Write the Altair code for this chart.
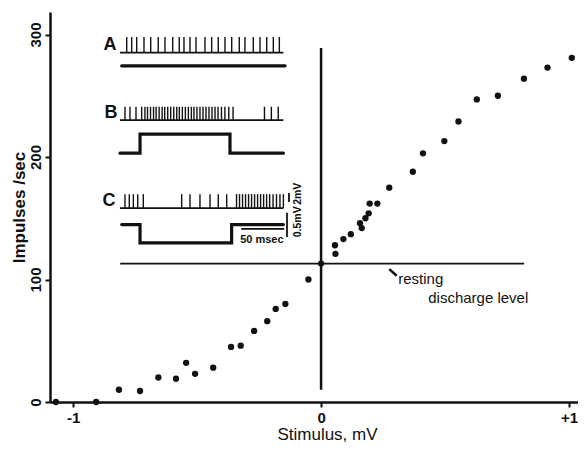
import altair as alt
import pandas as pd

# ---------------- data: main curve ----------------
stim_mv = [-1.069, -0.907, -0.815, -0.730, -0.656, -0.585, -0.544, -0.508, -0.435, -0.363,
           -0.324, -0.270, -0.217, -0.183, -0.144, -0.051, 0.0, 0.058, 0.056, 0.090,
           0.120, 0.164, 0.157, 0.179, 0.192, 0.196, 0.227, 0.275, 0.370, 0.411,
           0.497, 0.554, 0.628, 0.713, 0.818, 0.913, 1.011]
rate = [0, 0, 10, 9, 20, 19, 32, 23, 28, 45,
        46, 58, 66, 76, 80, 100, 113, 121, 128, 133,
        137, 142, 146, 150, 154, 162, 162, 175, 188, 203,
        213, 229, 247, 250, 264, 273, 281]
resting_rate = 113
x_ticks = [-1, 0, 1]
y_ticks = [0, 100, 200, 300]

# ---------------- data: inset traces (time in msec) ----------------
a_spikes = [7.8, 13.6, 19.4, 27.9, 35.7, 44.5, 52.3, 61.3, 68.9, 74.4, 81.4, 88.4,
            98.8, 106.6, 114.3, 122.1, 129.9, 138.7, 145.3, 155.0, 162.8, 170.6, 178.3, 185.3]
b_spikes = [5.8, 11.6, 18.6, 25.2, 29, 32, 35.5, 39, 42, 45.5, 49, 52, 55.5, 59, 62.5,
            66, 69, 72.5, 76, 79.5, 83, 86, 89.5, 93, 96.5, 100, 103.5, 107, 110.5,
            114, 118, 122, 126.5, 131.5, 168, 176, 184]
c_spikes = [5.8, 10.8, 15.5, 20.6, 27.1, 71.7, 81.4, 93, 104.7, 114.3, 124.1,
            135.5, 139, 142.5, 146, 149.5, 153, 156.5, 160, 163.5, 167, 170.5,
            174, 178, 182, 186, 190]
trace_len = [0, 190]
b_step_t = [0, 23.3, 23.3, 127.9, 127.9, 190]
b_step_on = [0, 0, 1, 1, 0, 0]
c_step_t = [2, 23.3, 23.3, 129.8, 129.8, 190]
c_step_on = [1, 1, 0, 0, 1, 1]
time_bar_ms = 50

# ---------------- layout (inset vertical units, 0..100 over plot height) ----------------
row_base = {"A": 89.6, "B": 72.3, "C": 49.7}
row_spike_h = {"A": 4.0, "B": 3.4, "C": 3.6}
a_line = 86.2
b_lo, b_hi = 63.8, 68.7
c_lo, c_hi = 40.8, 45.5

BLACK = "#111111"
FONT = "Liberation Sans"

# ---------------- main layer ----------------
xs = alt.Scale(domain=[-1.093, 1.036], nice=False, zero=False)
ys = alt.Scale(domain=[0, 318.4], nice=False, zero=False)

pts = pd.DataFrame({"stim": stim_mv, "rate": rate})
points = alt.Chart(pts).mark_circle(size=40, color=BLACK, opacity=1).encode(
    x=alt.X("stim:Q", scale=xs, title="Stimulus, mV",
            axis=alt.Axis(values=x_ticks, grid=False, domainColor=BLACK, domainWidth=2.5,
                          tickColor=BLACK, tickWidth=2, tickSize=5,
                          labelExpr="datum.value > 0 ? '+1' : (datum.value < 0 ? '-1' : '0')",
                          labelFont=FONT, labelFontSize=15, labelFontWeight="bold",
                          labelColor=BLACK, labelPadding=3,
                          titleFont=FONT, titleFontSize=17, titleFontWeight="normal",
                          titleColor=BLACK, titleX=277, titleY=24, titleBaseline="top")),
    y=alt.Y("rate:Q", scale=ys, title="Impulses /sec",
            axis=alt.Axis(values=y_ticks, grid=False, domainColor=BLACK, domainWidth=2.5,
                          tickColor=BLACK, tickWidth=2, tickSize=5, format="d",
                          labelAngle=270, labelFont=FONT, labelFontSize=15,
                          labelFontWeight="bold", labelColor=BLACK, labelPadding=2,
                          titleFont=FONT, titleFontSize=17, titleFontWeight="bold",
                          titleColor=BLACK, titleX=-26, titleBaseline="alphabetic")),
)

vline = alt.Chart(pd.DataFrame({"x": [0], "y0": [10], "y1": [289]})).mark_rule(
    color=BLACK, strokeWidth=2.5).encode(x=alt.X("x:Q", scale=xs), y=alt.Y("y0:Q", scale=ys), y2="y1:Q")

hline = alt.Chart(pd.DataFrame({"y": [resting_rate], "x0": [-0.810], "x1": [0.819]})).mark_rule(
    color=BLACK, strokeWidth=1.8).encode(y=alt.Y("y:Q", scale=ys), x=alt.X("x0:Q", scale=xs), x2="x1:Q")

arrow = alt.Chart(pd.DataFrame({"x0": [0.275], "x1": [0.305], "y0": [108.5], "y1": [103.0]})).mark_rule(
    color=BLACK, strokeWidth=2.6).encode(x=alt.X("x0:Q", scale=xs), x2="x1:Q",
                                          y=alt.Y("y0:Q", scale=ys), y2="y1:Q")

ann = pd.DataFrame({"x": [0.311, 0.432], "y": [100.4, 85.1], "t": ["resting", "discharge level"]})
ann_text = alt.Chart(ann).mark_text(align="left", baseline="middle", font=FONT, fontSize=15,
                                    color=BLACK).encode(
    x=alt.X("x:Q", scale=xs), y=alt.Y("y:Q", scale=ys), text="t:N")

main = alt.layer(points, vline, hline, arrow, ann_text)

# ---------------- inset layer ----------------
ts = alt.Scale(domain=[-81.4, 532.6], nice=False, zero=False)
us = alt.Scale(domain=[0, 100], nice=False, zero=False)

rows = []
for name, sp in (("A", a_spikes), ("B", b_spikes), ("C", c_spikes)):
    for t in sp:
        rows.append({"t": t, "u0": row_base[name], "u1": row_base[name] + row_spike_h[name]})
spk = pd.DataFrame(rows)
spikes = alt.Chart(spk).mark_rule(color=BLACK, strokeWidth=1.4).encode(
    x=alt.X("t:Q", scale=ts, axis=None), y=alt.Y("u0:Q", scale=us, axis=None), y2="u1:Q")

base = pd.DataFrame({"t0": [trace_len[0]] * 3, "t1": [trace_len[1]] * 3,
                     "u": [row_base["A"], row_base["B"], row_base["C"]]})
baselines = alt.Chart(base).mark_rule(color=BLACK, strokeWidth=1.8).encode(
    x=alt.X("t0:Q", scale=ts, axis=None), x2="t1:Q", y=alt.Y("u:Q", scale=us, axis=None))

step_rows = []
for i, t in enumerate([2, 192]):
    step_rows.append({"tr": "A", "i": i, "t": t, "u": a_line})
for i, (t, on) in enumerate(zip(b_step_t, b_step_on)):
    step_rows.append({"tr": "B", "i": i, "t": t, "u": b_hi if on else b_lo})
for i, (t, on) in enumerate(zip(c_step_t, c_step_on)):
    step_rows.append({"tr": "C", "i": i, "t": t, "u": c_hi if on else c_lo})
steps = alt.Chart(pd.DataFrame(step_rows)).mark_line(color=BLACK, strokeWidth=3.2,
                                                    strokeCap="round").encode(
    x=alt.X("t:Q", scale=ts, axis=None), y=alt.Y("u:Q", scale=us, axis=None),
    detail="tr:N", order="i:Q")

vbars = pd.DataFrame({"t": [196.5, 194.2], "u0": [51.3, 42.3], "u1": [53.6, 48.5]})
vbar = alt.Chart(vbars).mark_rule(color=BLACK, strokeWidth=1.8).encode(
    x=alt.X("t:Q", scale=ts, axis=None), y=alt.Y("u0:Q", scale=us, axis=None), y2="u1:Q")

hbar = alt.Chart(pd.DataFrame({"t0": [141], "t1": [141 + time_bar_ms], "u": [44.4]})).mark_rule(
    color=BLACK, strokeWidth=1.8).encode(
    x=alt.X("t0:Q", scale=ts, axis=None), x2="t1:Q", y=alt.Y("u:Q", scale=us, axis=None))

letters = pd.DataFrame({"t": [-11.6, -10.5, -12.8], "u": [91.5, 74.1, 51.5], "s": ["A", "B", "C"]})
letter_text = alt.Chart(letters).mark_text(font=FONT, fontSize=18, fontWeight="bold",
                                           color=BLACK, baseline="middle").encode(
    x=alt.X("t:Q", scale=ts, axis=None), y=alt.Y("u:Q", scale=us, axis=None), text="s:N")

mv = pd.DataFrame({"t": [207, 207], "u": [53.4, 46.2], "s": ["2mV", "0.5mV"]})
mv_text = alt.Chart(mv).mark_text(font=FONT, fontSize=10.5, fontWeight="bold", color=BLACK,
                                  angle=270, baseline="middle").encode(
    x=alt.X("t:Q", scale=ts, axis=None), y=alt.Y("u:Q", scale=us, axis=None), text="s:N")

ms_text = alt.Chart(pd.DataFrame({"t": [165], "u": [41.6], "s": ["50 msec"]})).mark_text(
    font=FONT, fontSize=11, fontWeight="bold", color=BLACK, baseline="middle").encode(
    x=alt.X("t:Q", scale=ts, axis=None), y=alt.Y("u:Q", scale=us, axis=None), text="s:N")

inset = alt.layer(spikes, baselines, steps, vbar, hbar, letter_text, mv_text, ms_text)

chart = alt.layer(main, inset).resolve_scale(x="independent", y="independent").properties(
    width=528, height=390, autosize="none",
    padding={"left": 42, "top": 4, "right": 0, "bottom": 41},
    background="white",
).configure_view(stroke=None)

chart.save("out.html", embed_options={"renderer": "svg", "actions": False})
